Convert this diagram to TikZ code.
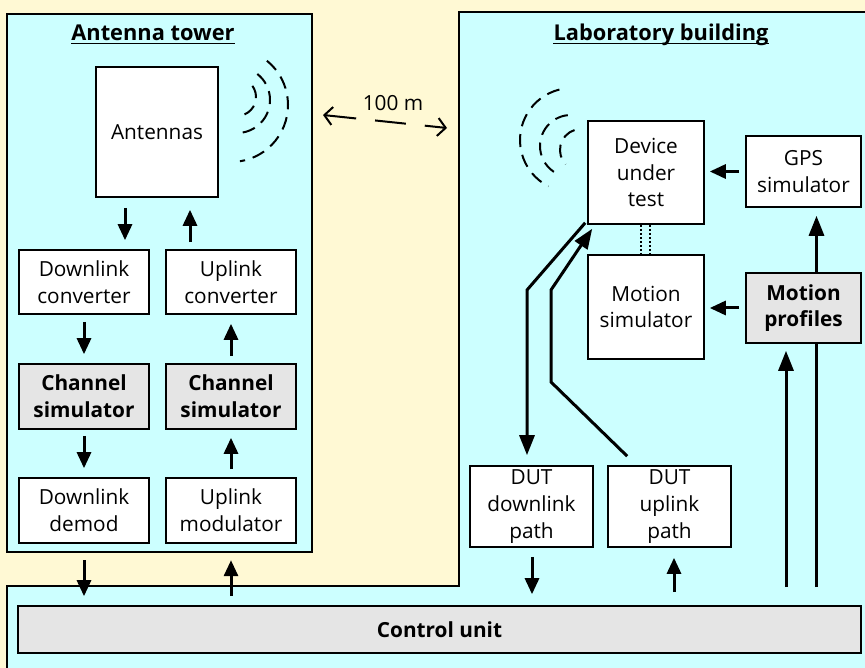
\documentclass[tikz,border=0pt]{standalone}
\usepackage{fontspec}
\setmainfont{Open Sans}
\usetikzlibrary{arrows.meta}
\definecolor{bgy}{RGB}{255,249,212}
\definecolor{cy}{RGB}{204,255,255}
\definecolor{gr}{RGB}{229,229,229}
\newcommand\dgfont{\fontsize{20.8}{26.8}\selectfont}
\newcommand\dgbold{\fontsize{20.8}{26.8}\selectfont\bfseries}
\newcommand\dgtitle{\fontsize{21.8}{26.8}\selectfont\bfseries}
\begin{document}
\begin{tikzpicture}[x=1pt,y=-1pt,
  box/.style={draw,line width=1.6pt,fill=white,inner sep=0pt,align=center,font=\dgfont},
  gbox/.style={box,fill=gr,font=\dgbold},
  arr/.style={line width=3pt,-{Triangle[length=16pt,width=14pt]}},
  arrL/.style={line width=3pt,-{Triangle[length=20pt,width=15pt]}},
  wave/.style={line width=2pt,dash pattern=on 13pt off 8pt},
  ttl/.style={inner sep=0pt,font=\dgtitle,anchor=base},
  uline/.style={line width=1.5pt}]
\useasboundingbox (0,0) rectangle (865,668);
\clip (0,0) rectangle (865,668);
\fill[bgy] (0,0) rectangle (865,668);
% laboratory building outline
\draw[fill=cy,line width=2.4pt] (459,12) -- (890,12) -- (890,690) -- (7,690) -- (7,586) -- (459,586) -- cycle;
% antenna tower
\node[draw,fill=cy,line width=2.4pt,inner sep=0pt,minimum width=305,minimum height=538] (tower) at (159.5,283) {};
% titles
\node[ttl] (t1) at (153,41) {Antenna tower};
\draw[uline] ([yshift=-2.5pt]t1.base west) -- ([yshift=-2.5pt]t1.base east);
\node[ttl] (t2) at (661,41) {Laboratory building};
\draw[uline] ([yshift=-2.5pt]t2.base west) -- ([yshift=-2.5pt]t2.base east);
% tower boxes
\node[box,minimum width=122,minimum height=130] (ant) at (157,132) {Antennas};
\node[box,minimum width=130,minimum height=64] (dlc) at (84,282) {Downlink\\converter};
\node[box,minimum width=130,minimum height=64] (ulc) at (231,282) {Uplink\\converter};
\node[gbox,minimum width=130,minimum height=65] (cs1) at (84,396.5) {Channel\\simulator};
\node[gbox,minimum width=130,minimum height=65] (cs2) at (231,396.5) {Channel\\simulator};
\node[box,minimum width=130,minimum height=65] (dld) at (84,510.5) {Downlink\\demod};
\node[box,minimum width=130,minimum height=65] (ulm) at (231,510.5) {Uplink\\modulator};
% lab boxes
\node[box,minimum width=116,minimum height=103] (dut) at (646,172.5) {Device\\under\\test};
\node[box,minimum width=115,minimum height=71] (gps) at (803.5,171.5) {GPS\\simulator};
\node[box,minimum width=116,minimum height=104] (ms) at (646,307) {Motion\\simulator};
\node[gbox,minimum width=115,minimum height=70] (mp) at (803.5,308) {Motion\\profiles};
\node[box,minimum width=123,minimum height=81] (dutdl) at (531.5,506.5) {DUT\\downlink\\path};
\node[box,minimum width=123,minimum height=81] (dutul) at (669.5,506.5) {DUT\\uplink\\path};
\node[gbox,minimum width=843,minimum height=47] (cu) at (439.5,629.5) {Control unit};
% helper coordinates
\coordinate (xa) at (125,0);
\coordinate (xb) at (190,0);
\coordinate (xr) at (816.5,0);
\coordinate (xl) at (786,0);
\coordinate (xd) at (532,0);
\coordinate (xu) at (674,0);
\coordinate (xp1) at (641,0);
\coordinate (xp2) at (650,0);
\coordinate (k1) at (527,290);
\coordinate (k2a) at (551,382);
\coordinate (k2b) at (551,290);
\coordinate (d1) at (323,115);
\coordinate (d2) at (447,128);
% tower arrows
\draw[arr,shorten <=10pt,shorten >=9pt] (ant.south -| xa) -- (dlc.north -| xa);
\draw[arr,shorten <=7pt,shorten >=12pt] (ulc.north -| xb) -- (ant.south -| xb);
\draw[arr,shorten <=7pt,shorten >=9pt] (dlc) -- (cs1);
\draw[arr,shorten <=6pt,shorten >=9pt] (cs1) -- (dld);
\draw[arr,shorten <=8pt,shorten >=8pt] (ulm) -- (cs2);
\draw[arr,shorten <=7pt,shorten >=9pt] (cs2) -- (ulc);
\draw[arr,shorten <=7pt,shorten >=9pt] (tower.south -| dld.south) -- (cu.north -| dld.south);
\draw[arr,shorten <=9pt,shorten >=7pt] (cu.north -| ulm.south) -- (tower.south -| ulm.south);
% lab arrows
\draw[arr,shorten <=6pt,shorten >=5pt] (gps.west) -- (dut.east |- gps.west);
\draw[arr,shorten <=6pt,shorten >=5pt] (mp.west) -- (ms.east |- mp.west);
\draw[arrL,shorten >=8pt] (mp.north -| xr) -- (gps.south -| xr);
\draw[line width=3pt,shorten <=18pt] (cu.north -| xr) -- (mp.south -| xr);
\draw[arrL,shorten <=18pt,shorten >=7pt] (cu.north -| xl) -- (mp.south -| xl);
\draw[arr,shorten <=9pt,shorten >=11pt] (dutdl.south -| xd) -- (cu.north -| xd);
\draw[arr,shorten <=13pt,shorten >=10pt] (cu.north -| xu) -- (dutul.south -| xu);
\draw[arrL,shorten >=10pt] ([xshift=-2pt,yshift=2pt]dut.south west) -- (k1) -- (k1 |- dutdl.north);
\draw[arrL] ([xshift=20pt,yshift=9pt]dutul.north west) -- (k2a) -- (k2b) -- ([xshift=5pt,yshift=-4pt]dut.south west);
\draw[line width=1.5pt,dash pattern=on 2pt off 2pt] (dut.south -| xp1) -- (ms.north -| xp1);
\draw[line width=1.5pt,dash pattern=on 2pt off 2pt] (dut.south -| xp2) -- (ms.north -| xp2);
% distance
\draw[line width=2pt,{Straight Barb[length=8pt,width=18pt]}-{Straight Barb[length=8pt,width=18pt]},dash pattern=on 31pt off 19pt] (d1) -- (d2);
\node[font=\dgfont] (lbl) at (393,103) {100 m};
% radio waves
\draw[wave] (231,105) ++(-51:57) arc[start angle=-51,end angle=81,radius=57];
\draw[wave] (237,100) ++(-52:33) arc[start angle=-52,end angle=85,radius=33];
\draw[wave] (237,97) ++(-36:19) arc[start angle=-36,end angle=80,radius=19];
\draw[wave] (572,140) ++(256:52) arc[start angle=256,end angle=117,radius=52];
\draw[wave] (571,146) ++(264:31) arc[start angle=264,end angle=117,radius=31];
\draw[wave] (581,150) ++(252:21) arc[start angle=252,end angle=137,radius=21];
\end{tikzpicture}
\end{document}
